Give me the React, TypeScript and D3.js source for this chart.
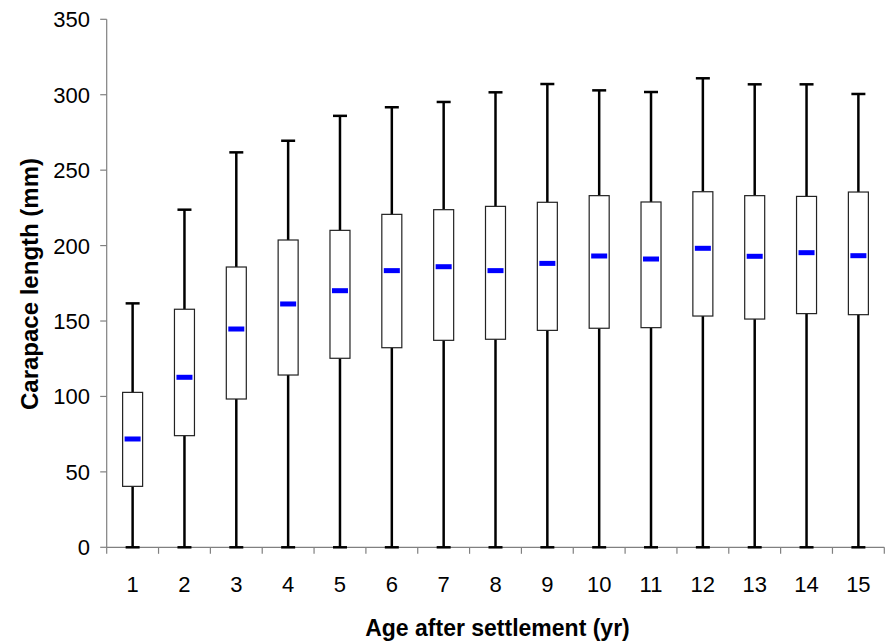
import React from "react";
import * as d3 from "d3";

// Age classes (years after settlement)
const ages = ["1", "2", "3", "4", "5", "6", "7", "8", "9", "10", "11", "12", "13", "14", "15"];
// Carapace length summaries (mm)
const whiskerLow = [0, 0, 0, 0, 0, 0, 0, 0, 0, 0, 0, 0, 0, 0, 0];
const q1 = [40.4, 74.0, 98.3, 114.2, 125.3, 132.3, 137.2, 137.9, 143.8, 145.2, 145.6, 153.3, 151.3, 154.9, 154.2];
const median = [71.8, 112.7, 144.7, 161.3, 170.1, 183.4, 186.0, 183.4, 188.2, 193.1, 191.1, 198.2, 192.9, 195.3, 193.3];
const q3 = [102.7, 157.8, 185.8, 203.7, 210.1, 220.7, 223.8, 226.0, 228.7, 233.1, 228.9, 235.7, 233.1, 232.6, 235.5];
const whiskerHigh = [161.7, 223.8, 261.8, 269.5, 286.0, 291.7, 295.2, 301.6, 307.1, 302.9, 301.8, 310.9, 306.9, 306.9, 300.5];
const yTicks = [0, 50, 100, 150, 200, 250, 300, 350];

const W = 895;
const H = 643;
const plot = { left: 106.7, right: 884.3, top: 19.3, bottom: 547.3 };
const font = "'Liberation Sans', Arial, sans-serif";

export default function App() {
  const x = d3.scaleBand<string>().domain(ages).range([plot.left, plot.right]).padding(0);
  const y = d3.scaleLinear().domain([0, 350]).range([plot.bottom, plot.top]);
  const boxW = 20;
  const capW = 14;
  const medW = 16;
  const medH = 5;
  const bounds = [...ages.map((a) => x(a) as number), plot.right];

  return (
    <svg
      width={W}
      height={H}
      style={{ position: "absolute", left: 0, top: 0, background: "#fff" }}
      fontFamily={font}
    >
      <rect width={W} height={H} fill="#fff" />
      {/* y axis */}
      <line x1={plot.left} x2={plot.left} y1={plot.top} y2={plot.bottom} stroke="#808080" strokeWidth={1.2} />
      {yTicks.map((t) => (
        <g key={t}>
          <line x1={plot.left - 6.5} x2={plot.left} y1={y(t)} y2={y(t)} stroke="#808080" strokeWidth={1.2} />
          <text x={90} y={y(t)} dy="0.36em" textAnchor="end" fontSize={22} fill="#000">
            {t}
          </text>
        </g>
      ))}
      {/* x axis */}
      <line x1={plot.left} x2={plot.right} y1={plot.bottom} y2={plot.bottom} stroke="#808080" strokeWidth={1.2} />
      {bounds.map((b, i) => (
        <line key={i} x1={b} x2={b} y1={plot.bottom} y2={plot.bottom + 6.5} stroke="#808080" strokeWidth={1.2} />
      ))}
      {ages.map((a) => (
        <text
          key={a}
          x={(x(a) as number) + x.bandwidth() / 2}
          y={592}
          textAnchor="middle"
          fontSize={22}
          fill="#000"
        >
          {a}
        </text>
      ))}
      {/* boxes */}
      {ages.map((a, i) => {
        const cx = (x(a) as number) + x.bandwidth() / 2;
        return (
          <g key={a}>
            <line x1={cx} x2={cx} y1={y(whiskerHigh[i])} y2={y(q3[i])} stroke="#000" strokeWidth={2.5} />
            <line x1={cx} x2={cx} y1={y(q1[i])} y2={y(whiskerLow[i])} stroke="#000" strokeWidth={2.5} />
            <line x1={cx - capW / 2} x2={cx + capW / 2} y1={y(whiskerHigh[i])} y2={y(whiskerHigh[i])} stroke="#000" strokeWidth={2.5} />
            <line x1={cx - capW / 2} x2={cx + capW / 2} y1={y(whiskerLow[i])} y2={y(whiskerLow[i])} stroke="#000" strokeWidth={2.5} />
            <rect
              x={cx - boxW / 2}
              y={y(q3[i])}
              width={boxW}
              height={y(q1[i]) - y(q3[i])}
              fill="#fff"
              stroke="#222"
              strokeWidth={1.2}
            />
            <rect x={cx - medW / 2} y={y(median[i]) - medH / 2} width={medW} height={medH} fill="#0000ff" />
          </g>
        );
      })}
      {/* axis titles */}
      <text x={497.5} y={636} textAnchor="middle" fontSize={23} fontWeight="bold" fill="#000">
        Age after settlement (yr)
      </text>
      <text
        transform={`translate(38,284) rotate(-90)`}
        textAnchor="middle"
        fontSize={24}
        fontWeight="bold"
        fill="#000"
      >
        Carapace length (mm)
      </text>
    </svg>
  );
}
